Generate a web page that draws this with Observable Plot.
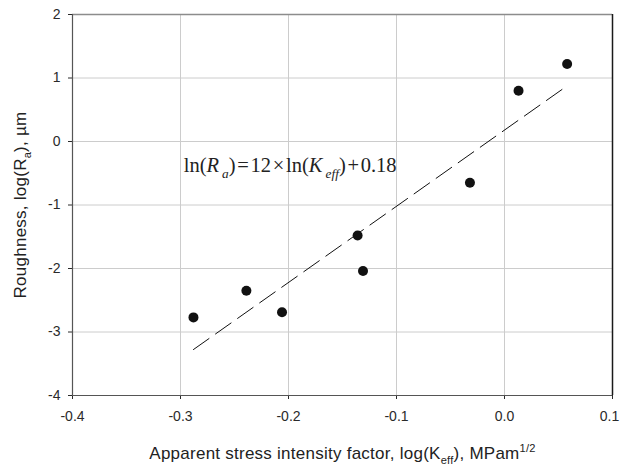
<!DOCTYPE html>
<html>
<head>
<meta charset="utf-8">
<script src="https://cdn.jsdelivr.net/npm/d3@7"></script>
<script src="https://cdn.jsdelivr.net/npm/@observablehq/plot@0.6"></script>
<style>
  html, body { margin: 0; padding: 0; background: #fff; }
</style>
</head>
<body>
<div id="chart"></div>
<script>
// Surface roughness against apparent stress intensity factor (log–log)
const xTicks = [-0.4, -0.3, -0.2, -0.1, 0.0, 0.1];
const yTicks = [-4, -3, -2, -1, 0, 1, 2];
const logK  = [-0.288, -0.239, -0.206, -0.136, -0.131, -0.032, 0.013, 0.058];
const logRa = [-2.77, -2.35, -2.69, -1.48, -2.04, -0.65, 0.80, 1.22];

// Fitted relation ln(Ra) = 12 × ln(Keff) + 0.18
const fitSlope = 12;
const fitIntercept = 0.18;

const points = logK.map((x, i) => ({x, y: logRa[i]}));
const fitLine = d3.extent(logK).map(x => ({x, y: fitSlope * x + fitIntercept}));

const eqText = "ln(Ra)=12×ln(Keff)+0.18";
const xLabel = "Apparent stress intensity factor, log(Keff), MPam1/2";
const yLabel = "Roughness, log(Ra), µm";

// Rich-text pieces: [text, kind] where kind is "", "i" (italic), "sub", "isub", "sup"
const eqParts = [["ln(", ""], ["R", "i"], ["a", "isub"], [")", ""], ["\u200A=\u200A12\u200A×\u200Aln(", ""],
                 ["K", "i"], ["eff", "isub"], [")", ""], ["\u200A+\u200A0.18", ""]];
const xLabelParts = [["Apparent stress intensity factor, log(K", ""], ["eff", "sub"], ["), MPam", ""], ["1/2", "sup"]];
const yLabelParts = [["Roughness, log(R", ""], ["a", "sub"], ["), µm", ""]];

const labelSize = 17;
const eqSize = 20.5;
const tickFont = 14;

const plot = Plot.plot({
  width: 621,
  height: 471,
  marginLeft: 72,
  marginRight: 9,
  marginTop: 14,
  marginBottom: 76,
  style: {fontFamily: "'Liberation Sans', Arial, sans-serif", fontSize: tickFont + "px", color: "#2a2a2a", background: "#fff", overflow: "visible"},
  x: {domain: [-0.4, 0.1], ticks: xTicks, tickFormat: d => d.toFixed(1), tickSize: 4, tickPadding: 12, label: null},
  y: {domain: [-4, 2], ticks: yTicks, tickFormat: d => String(d), tickSize: 4, tickPadding: 8, label: null},
  marks: [
    Plot.ruleX(xTicks.slice(1, -1), {stroke: "#cccccc", strokeWidth: 1}),
    Plot.ruleY(yTicks.slice(1, -1), {stroke: "#cccccc", strokeWidth: 1}),
    Plot.ruleY([2], {stroke: "#8c8c8c", strokeWidth: 1.6}),
    Plot.ruleX([0.1], {stroke: "#1a1a1a", strokeWidth: 1.5}),
    Plot.ruleX([-0.4], {stroke: "#555", strokeWidth: 1.2}),
    Plot.ruleY([-4], {stroke: "#555", strokeWidth: 1.2}),
    Plot.line(fitLine, {x: "x", y: "y", stroke: "#111", strokeWidth: 1, strokeDasharray: "19,8"}),
    Plot.dot(points, {x: "x", y: "y", r: 5, fill: "#111", stroke: "none"}),
    Plot.text([eqText], {x: -0.297, y: -0.378, text: d => d, textAnchor: "start", fontFamily: "'Liberation Serif', 'Times New Roman', serif", fontSize: eqSize, fill: "#222"}),
    Plot.text([xLabel], {frameAnchor: "bottom", dy: 63, text: d => d, fontSize: labelSize, fill: "#222"}),
    Plot.text([yLabel], {frameAnchor: "left", dx: -52, rotate: -90, textAnchor: "middle", text: d => d, fontSize: labelSize, fill: "#222"})
  ]
});

// Tick labels: larger type than the library default
plot.querySelectorAll('[aria-label$="tick label"], [aria-label$="axis"]').forEach(g => {
  g.setAttribute("font-size", tickFont);
  g.querySelectorAll("text").forEach(t => t.setAttribute("font-size", tickFont));
});
// Keep the right-most x tick label inside the picture
plot.querySelectorAll('[aria-label="x-axis tick label"] text').forEach(t => {
  if (t.textContent === "0.1") t.setAttribute("dx", -3);
});

// Rebuild a plain text element as tspans with italics, subscripts and superscripts
function enrich(svg, plain, parts, fs, spacing = 0) {
  const NS = "http://www.w3.org/2000/svg";
  svg.querySelectorAll("text").forEach(t => {
    if (t.textContent !== plain) return;
    t.textContent = "";
    if (spacing) t.setAttribute("letter-spacing", spacing);
    let shift = 0;
    for (const [str, kind] of parts) {
      const ts = document.createElementNS(NS, "tspan");
      const small = kind === "sub" || kind === "isub" || kind === "sup";
      const target = (kind === "sub" || kind === "isub") ? 0.3 * fs : kind === "sup" ? -0.4 * fs : 0;
      if (target !== shift) { ts.setAttribute("dy", target - shift); shift = target; }
      if (small) ts.setAttribute("font-size", (fs * 0.65).toFixed(1));
      if (kind === "i" || kind === "isub") ts.setAttribute("font-style", "italic");
      if (kind === "isub") ts.setAttribute("dx", 0.15 * fs);
      ts.textContent = str;
      t.appendChild(ts);
    }
  });
}
enrich(plot, eqText, eqParts, eqSize);
enrich(plot, xLabel, xLabelParts, labelSize, 0.25);
enrich(plot, yLabel, yLabelParts, labelSize, 0.25);

document.getElementById("chart").appendChild(plot);
</script>
</body>
</html>
